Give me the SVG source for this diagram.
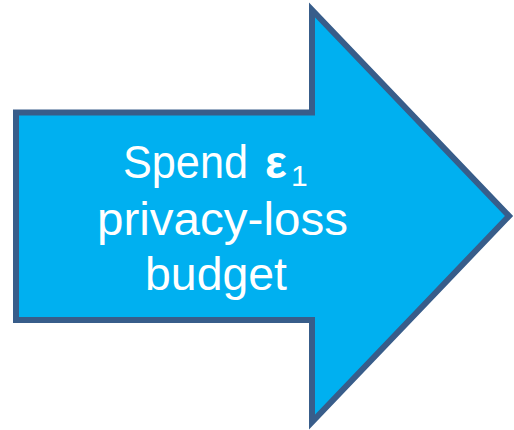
<svg xmlns="http://www.w3.org/2000/svg" width="514" height="430" viewBox="0 0 514 430">
<style>
.shape{fill:#00B0F0;stroke:#385D8A;stroke-width:6;stroke-linejoin:miter;stroke-miterlimit:10}
.lbl{font-family:"Liberation Sans",Arial,sans-serif;font-size:46px;fill:#FFFFFF}
</style>
<g id="arrow">
<polygon class="shape" points="16,112.5 312,112.5 312,10 509,216 312,422 312,320 16,320"/>
<text class="lbl" x="123" y="178" textLength="125" lengthAdjust="spacingAndGlyphs">Spend</text>
<text class="lbl" x="265" y="178" font-weight="bold">ε</text>
<text class="lbl" x="291" y="186" style="font-size:30px">1</text>
<text class="lbl" x="97" y="235" textLength="251" lengthAdjust="spacingAndGlyphs">privacy-loss</text>
<text class="lbl" x="145" y="290" textLength="142" lengthAdjust="spacingAndGlyphs">budget</text>
</g>
</svg>
